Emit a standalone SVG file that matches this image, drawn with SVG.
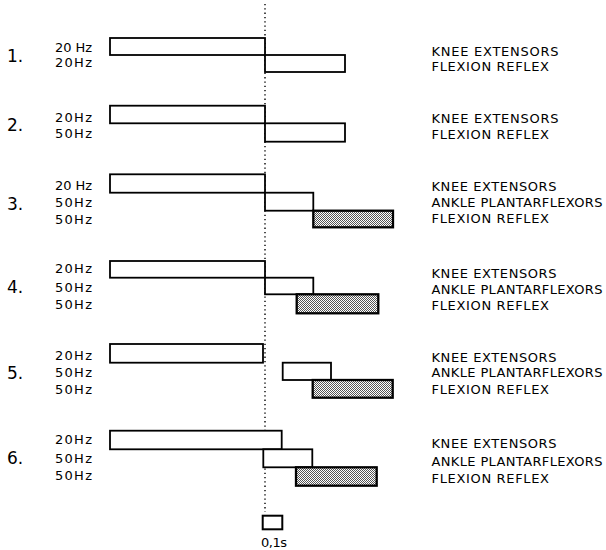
<svg xmlns="http://www.w3.org/2000/svg" width="606" height="550" viewBox="0 0 606 550">
  <defs>
    <!-- fine stipple used for the flexion reflex stimulus -->
    <pattern id="stipple" width="2" height="2" patternUnits="userSpaceOnUse">
      <rect width="2" height="2" fill="#ffffff"/>
      <rect x="0" y="0" width="1" height="1" fill="#555"/>
      <rect x="1" y="1" width="1" height="1" fill="#555"/>
    </pattern>
    <style>
      text { font-family: "DejaVu Sans", "Liberation Sans", sans-serif; fill: #000; }
      .num { font-size: 17px; }
      .hz { font-size: 13px; }
      .lbl { font-size: 13px; }
      .bar { fill: #fff; stroke: #000; stroke-width: 1.8; }
      .shade { fill: url(#stipple); stroke: #000; stroke-width: 2.3; }
      .dots { fill: none; stroke: #000; stroke-width: 1.4; stroke-dasharray: 1.3 3; }
    </style>
  </defs>
  <rect width="606" height="550" fill="#fff"/>

  <!-- vertical time reference -->
  <g id="connectors">
    <line class="dots" x1="265" y1="4" x2="265" y2="512"/>
  </g>

  <!-- 1 -->
  <g id="row1">
    <text class="num" x="7" y="62">1.</text>
    <text class="hz" x="55" y="52" textLength="37" lengthAdjust="spacing">20 Hz</text>
    <text class="hz" x="55" y="67" textLength="37" lengthAdjust="spacing">20Hz</text>
    <rect class="bar" x="110" y="38" width="155" height="17"/>
    <rect class="bar" x="265" y="55" width="80" height="17"/>
    <text class="lbl" x="431.5" y="56" textLength="127" lengthAdjust="spacing">KNEE  EXTENSORS</text>
    <text class="lbl" x="431.5" y="71" textLength="117.5" lengthAdjust="spacing">FLEXION  REFLEX</text>
  </g>

  <!-- 2 -->
  <g id="row2">
    <text class="num" x="7" y="131">2.</text>
    <text class="hz" x="55" y="122" textLength="37" lengthAdjust="spacing">20Hz</text>
    <text class="hz" x="55" y="138" textLength="37" lengthAdjust="spacing">50Hz</text>
    <rect class="bar" x="110" y="105.7" width="155" height="17.6"/>
    <rect class="bar" x="265" y="123.3" width="80" height="18.4"/>
    <text class="lbl" x="431.5" y="123" textLength="127" lengthAdjust="spacing">KNEE  EXTENSORS</text>
    <text class="lbl" x="431.5" y="139" textLength="117.5" lengthAdjust="spacing">FLEXION  REFLEX</text>
  </g>

  <!-- 3 -->
  <g id="row3">
    <text class="num" x="7" y="210">3.</text>
    <text class="hz" x="55" y="190" textLength="37" lengthAdjust="spacing">20 Hz</text>
    <text class="hz" x="55" y="207" textLength="37" lengthAdjust="spacing">50Hz</text>
    <text class="hz" x="55" y="224" textLength="37" lengthAdjust="spacing">50Hz</text>
    <rect class="bar" x="110" y="174.3" width="155" height="18.4"/>
    <rect class="bar" x="265" y="192.7" width="48.3" height="18"/>
    <rect class="shade" x="313.3" y="210.7" width="79.7" height="16.6"/>
    <text class="lbl" x="431.5" y="191" textLength="125" lengthAdjust="spacing">KNEE EXTENSORS</text>
    <text class="lbl" x="431.5" y="207" textLength="171" lengthAdjust="spacing">ANKLE PLANTARFLEXORS</text>
    <text class="lbl" x="431.5" y="223" textLength="117.5" lengthAdjust="spacing">FLEXION REFLEX</text>
  </g>

  <!-- 4 -->
  <g id="row4">
    <text class="num" x="7" y="293">4.</text>
    <text class="hz" x="55" y="273" textLength="37" lengthAdjust="spacing">20Hz</text>
    <text class="hz" x="55" y="291.5" textLength="37" lengthAdjust="spacing">50Hz</text>
    <text class="hz" x="55" y="309" textLength="37" lengthAdjust="spacing">50Hz</text>
    <rect class="bar" x="110" y="261" width="155" height="16.7"/>
    <rect class="bar" x="265" y="277.7" width="48.3" height="16.6"/>
    <rect class="shade" x="296.7" y="294.3" width="81.6" height="19"/>
    <text class="lbl" x="431.5" y="278" textLength="125" lengthAdjust="spacing">KNEE EXTENSORS</text>
    <text class="lbl" x="431.5" y="294" textLength="171" lengthAdjust="spacing">ANKLE PLANTARFLEXORS</text>
    <text class="lbl" x="431.5" y="310" textLength="117.5" lengthAdjust="spacing">FLEXION REFLEX</text>
  </g>

  <!-- 5 -->
  <g id="row5">
    <text class="num" x="7" y="379">5.</text>
    <text class="hz" x="55" y="359.5" textLength="37" lengthAdjust="spacing">20Hz</text>
    <text class="hz" x="55" y="376.7" textLength="37" lengthAdjust="spacing">50Hz</text>
    <text class="hz" x="55" y="394.3" textLength="37" lengthAdjust="spacing">50Hz</text>
    <rect class="bar" x="110" y="344" width="153" height="18.7"/>
    <rect class="bar" x="282.7" y="362.7" width="48.3" height="17.3"/>
    <rect class="shade" x="312.7" y="380" width="80" height="17.7"/>
    <text class="lbl" x="431.5" y="361.7" textLength="125" lengthAdjust="spacing">KNEE EXTENSORS</text>
    <text class="lbl" x="431.5" y="377" textLength="171" lengthAdjust="spacing">ANKLE PLANTARFLEXORS</text>
    <text class="lbl" x="431.5" y="394.3" textLength="117.5" lengthAdjust="spacing">FLEXION REFLEX</text>
  </g>

  <!-- 6 -->
  <g id="row6">
    <text class="num" x="7" y="464">6.</text>
    <text class="hz" x="55" y="444.3" textLength="37" lengthAdjust="spacing">20Hz</text>
    <text class="hz" x="55" y="462.7" textLength="37" lengthAdjust="spacing">50Hz</text>
    <text class="hz" x="55" y="480" textLength="37" lengthAdjust="spacing">50Hz</text>
    <rect class="bar" x="110" y="430.7" width="171.7" height="18.6"/>
    <rect class="bar" x="263.3" y="449.3" width="49" height="18"/>
    <rect class="shade" x="296" y="467.3" width="80.7" height="18.4"/>
    <text class="lbl" x="431.5" y="448.3" textLength="125" lengthAdjust="spacing">KNEE EXTENSORS</text>
    <text class="lbl" x="431.5" y="466" textLength="171" lengthAdjust="spacing">ANKLE PLANTARFLEXORS</text>
    <text class="lbl" x="431.5" y="483.3" textLength="117.5" lengthAdjust="spacing">FLEXION REFLEX</text>
  </g>

  <!-- time scale -->
  <g id="scale">
    <rect x="262.7" y="515.7" width="19.6" height="13.6" fill="none" stroke="#000" stroke-width="2"/>
    <text class="hz" x="261" y="547" textLength="26" lengthAdjust="spacing">0,1s</text>
  </g>
</svg>
